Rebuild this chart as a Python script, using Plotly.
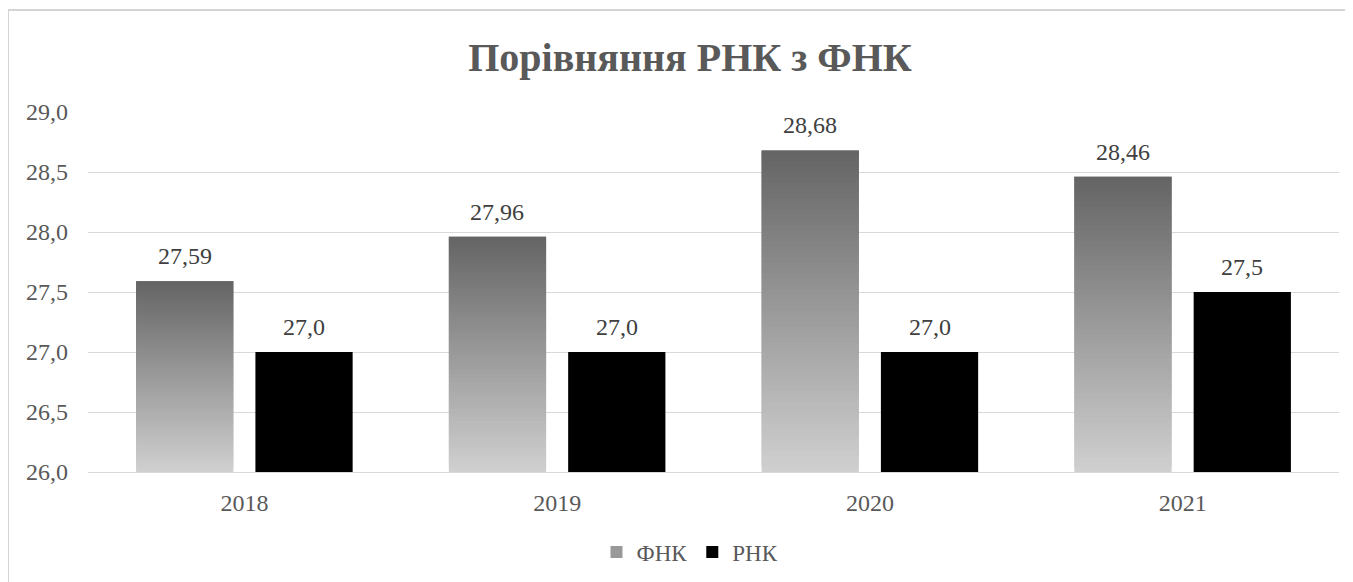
import plotly.graph_objects as go

years = ["2018", "2019", "2020", "2021"]
fnk = [27.59, 27.96, 28.68, 28.46]
rnk = [27.0, 27.0, 27.0, 27.5]
y_base = 26.0
y_ticks = [26.0, 26.5, 27.0, 27.5, 28.0, 28.5, 29.0]

W, H = 1353, 582
ML, MR, MT, MB = 80, 22, 104, 118
FONT = "'Liberation Serif', 'Times New Roman', Tinos, 'DejaVu Serif', serif"
BARGAP, GROUPGAP = 0.237, 0.185

fig = go.Figure()

# gradient bars for ФНК: stacked slices, light at bottom to dark at top
N = 60
light = (208, 208, 208)
dark = (100, 100, 100)
fnk_labels = [f"{v:.2f}".replace(".", ",") for v in fnk]
rnk_labels = [f"{v:.1f}".replace(".", ",") for v in rnk]
for i in range(N):
    t = (i + 0.5) / N
    c = tuple(round(light[k] + (dark[k] - light[k]) * t) for k in range(3))
    col = f"rgb{c}"
    last = i == N - 1
    bases = [y_base + (v - y_base) * i / N for v in fnk]
    heights = [(v - y_base) / N * (1 if last else 2) for v in fnk]
    fig.add_trace(go.Bar(
        x=years, y=heights, base=bases, offsetgroup="f",
        marker=dict(color=col, line=dict(width=0)),
        name="ФНК", legendgroup="f", showlegend=(i == N // 2),
        hoverinfo="skip",
    ))

fig.add_trace(go.Bar(
    x=years, y=[v - y_base for v in rnk], base=[y_base] * len(rnk), offsetgroup="r",
    marker=dict(color="#000000", line=dict(width=0)),
    name="РНК",
))

# value labels above bars (category axis: annotation x is the category index)
pw, ph = W - ML - MR, H - MT - MB
cat_px = pw / len(years)
slot = cat_px * (1 - BARGAP) / 2
for j in range(len(years)):
    for val, lab, sh in ((fnk[j], fnk_labels[j], -slot / 2), (rnk[j], rnk_labels[j], slot / 2)):
        fig.add_annotation(x=j, y=val, text=lab, showarrow=False, xshift=sh, yshift=10,
                           yanchor="bottom", xanchor="center",
                           font=dict(family=FONT, size=24, color="#404040"))

fig.update_layout(
    width=W, height=H,
    margin=dict(l=ML, r=MR, t=MT, b=MB),
    paper_bgcolor="white", plot_bgcolor="white",
    separators=", ",
    barmode="group", bargap=BARGAP, bargroupgap=GROUPGAP,
    font=dict(family=FONT, size=24, color="#595959"),
    title=dict(text="<b>Порівняння РНК з ФНК</b>", x=682 / W, xref="container", xanchor="center",
               y=1 - 49 / H, yref="container", yanchor="middle",
               font=dict(family=FONT, size=40, color="#595959")),
    legend=dict(orientation="h", x=(682 - ML) / pw, xanchor="center",
                y=-(544 - (H - MB)) / ph, yanchor="middle",
                font=dict(family=FONT, size=23, color="#595959"),
                traceorder="normal", itemwidth=30, itemsizing="constant"),
    xaxis=dict(type="category", range=[-0.5, len(years) - 0.5],
               showgrid=False, showline=True, linecolor="#d9d9d9", linewidth=1,
               tickfont=dict(family=FONT, size=24, color="#595959"), ticks="", ticklabelstandoff=9),
    yaxis=dict(range=[y_base, 29.0], tickvals=y_ticks, tickformat=".1f",
               showgrid=True, gridcolor="#d9d9d9", gridwidth=1, zeroline=False,
               showline=False, ticks="", ticklabelstandoff=19,
               tickfont=dict(family=FONT, size=24, color="#595959")),
)

# outer chart frame (partially visible border)
x0p = (0 - ML) / pw
y_top = 1 + (MT - 2) / ph
y_bot = -(MB + 20) / ph
fig.add_shape(type="line", xref="paper", yref="paper", x0=x0p, x1=1 + (MR + 20) / pw, y0=y_top, y1=y_top,
              line=dict(color="#d4d4d4", width=2))
fig.add_shape(type="line", xref="paper", yref="paper", x0=x0p, x1=x0p, y0=y_top, y1=y_bot,
              line=dict(color="#d4d4d4", width=2))

fig.write_html("out.html")
